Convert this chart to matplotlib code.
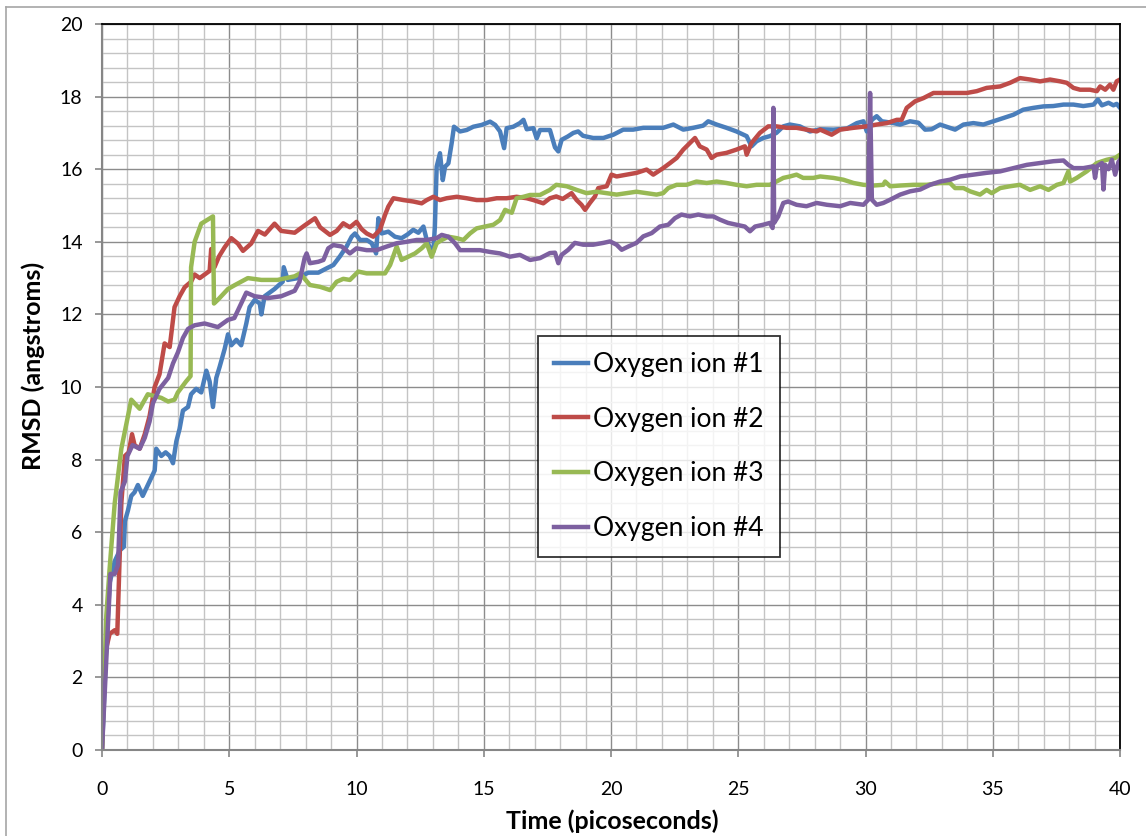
import matplotlib
matplotlib.use("Agg")
import matplotlib.pyplot as plt
from matplotlib.lines import Line2D
from matplotlib.ticker import MultipleLocator

plt.rcParams['font.family'] = ['Lato', 'DejaVu Sans']

# (time in ps, RMSD in angstroms)
ion1 = [(0, 0), (0.15, 2.6), (0.3, 4.6), (0.5, 5.2), (0.7, 5.5), (0.86, 5.6), (0.9, 6.3), (1.02, 6.6),
        (1.15, 7.0), (1.28, 7.1), (1.41, 7.3), (1.6, 7.0), (1.87, 7.4), (2.07, 7.7), (2.13, 8.3), (2.33, 8.1),
        (2.5, 8.2), (2.66, 8.1), (2.79, 7.9), (2.92, 8.5), (3.05, 8.85), (3.18, 9.35), (3.38, 9.45), (3.5, 9.8),
        (3.7, 9.95), (3.9, 9.85), (4.1, 10.45), (4.23, 10.15), (4.36, 9.45), (4.49, 10.25), (4.62, 10.55),
        (4.82, 11.05), (4.95, 11.45), (5.08, 11.15), (5.28, 11.3), (5.47, 11.15), (5.67, 11.75), (5.8, 12.2),
        (6.0, 12.4), (6.2, 12.3), (6.26, 12.0), (6.39, 12.5), (6.78, 12.7), (7.1, 12.9), (7.14, 13.3),
        (7.3, 12.95), (7.7, 13.0), (8.1, 13.15), (8.5, 13.15), (8.83, 13.27), (9.09, 13.36), (9.35, 13.6),
        (9.61, 13.87), (9.81, 14.14), (9.94, 14.23), (10.14, 14.05), (10.4, 14.05), (10.6, 13.96),
        (10.77, 13.68), (10.86, 14.65), (10.99, 14.23), (11.25, 14.28), (11.51, 14.14), (11.77, 14.1),
        (12.0, 14.2), (12.23, 14.33), (12.43, 14.25), (12.63, 14.42), (12.76, 14.05), (12.89, 13.82),
        (13.02, 13.73), (13.08, 14.42), (13.15, 16.07), (13.28, 16.44), (13.39, 15.7), (13.48, 16.07),
        (13.61, 16.16), (13.74, 16.72), (13.83, 17.17), (14.07, 17.04), (14.33, 17.08), (14.59, 17.17),
        (14.92, 17.22), (15.25, 17.31), (15.45, 17.22), (15.64, 17.04), (15.8, 16.58), (15.9, 17.13),
        (16.16, 17.17), (16.42, 17.27), (16.56, 17.36), (16.69, 17.1), (16.95, 17.13), (17.08, 16.85),
        (17.21, 17.08), (17.6, 17.08), (17.8, 16.6), (17.93, 16.49), (18.06, 16.81), (18.3, 16.9),
        (18.52, 17.0), (18.71, 17.04), (18.9, 16.92), (19.3, 16.86), (19.7, 16.86), (20.09, 16.95),
        (20.48, 17.09), (20.87, 17.09), (21.27, 17.14), (21.66, 17.14), (22.05, 17.14), (22.45, 17.23),
        (22.84, 17.09), (23.23, 17.14), (23.62, 17.2), (23.82, 17.32), (24.15, 17.23), (24.54, 17.14),
        (24.93, 17.04), (25.33, 16.91), (25.52, 16.63), (25.72, 16.77), (25.98, 16.86), (26.24, 16.91),
        (26.5, 17.0), (26.77, 17.18), (27.03, 17.23), (27.42, 17.18), (27.82, 17.04), (28.22, 17.1),
        (28.74, 17.09), (29.27, 17.12), (29.66, 17.27), (29.92, 17.32), (30.05, 17.04), (30.25, 17.36),
        (30.44, 17.46), (30.64, 17.32), (30.84, 17.3), (31.1, 17.27), (31.36, 17.23), (31.75, 17.32),
        (32.08, 17.28), (32.34, 17.09), (32.6, 17.1), (32.93, 17.23), (33.26, 17.15), (33.52, 17.09),
        (33.85, 17.23), (34.24, 17.27), (34.63, 17.23), (35.03, 17.32), (35.42, 17.41), (35.81, 17.5),
        (36.2, 17.64), (36.6, 17.69), (36.99, 17.73), (37.38, 17.74), (37.78, 17.78), (38.17, 17.78),
        (38.56, 17.74), (38.96, 17.78), (39.13, 17.92), (39.29, 17.76), (39.55, 17.83), (39.74, 17.76),
        (39.87, 17.8), (40.0, 17.69)]

ion2 = [(0, 0), (0.1, 2.6), (0.3, 3.2), (0.5, 3.3), (0.6, 3.2), (0.65, 4.3), (0.76, 6.8), (0.9, 8.1),
        (1.05, 8.2), (1.18, 8.7), (1.28, 8.4), (1.48, 8.3), (1.68, 8.7), (1.87, 9.2), (2.07, 10.0),
        (2.26, 10.35), (2.46, 11.2), (2.66, 11.1), (2.85, 12.2), (3.05, 12.5), (3.25, 12.75), (3.5, 12.9),
        (3.64, 13.1), (3.84, 13.0), (4.23, 13.2), (4.29, 13.8), (4.42, 13.3), (4.6, 13.6), (4.82, 13.85),
        (5.08, 14.1), (5.34, 13.95), (5.54, 13.75), (5.86, 13.95), (6.13, 14.3), (6.4, 14.2), (6.78, 14.5),
        (7.04, 14.3), (7.57, 14.25), (7.96, 14.45), (8.37, 14.65), (8.57, 14.4), (8.96, 14.19), (9.22, 14.3),
        (9.48, 14.51), (9.74, 14.4), (10.0, 14.55), (10.2, 14.35), (10.4, 14.23), (10.66, 14.14),
        (10.92, 14.33), (11.12, 14.74), (11.25, 14.97), (11.45, 15.2), (11.84, 15.15), (12.23, 15.11),
        (12.56, 15.06), (12.76, 15.15), (13.02, 15.24), (13.28, 15.15), (13.54, 15.2), (13.94, 15.24),
        (14.33, 15.2), (14.72, 15.15), (15.12, 15.15), (15.51, 15.2), (15.9, 15.2), (16.29, 15.24),
        (16.69, 15.2), (16.95, 15.15), (17.34, 15.06), (17.6, 15.2), (17.85, 15.25), (18.1, 15.18),
        (18.45, 15.34), (18.65, 15.15), (18.84, 15.02), (18.98, 14.88), (19.17, 15.07), (19.37, 15.25),
        (19.5, 15.48), (19.83, 15.53), (20.02, 15.85), (20.22, 15.8), (20.61, 15.85), (21.01, 15.9),
        (21.4, 15.99), (21.66, 15.85), (22.05, 16.03), (22.32, 16.17), (22.58, 16.31), (22.84, 16.54),
        (23.1, 16.72), (23.3, 16.86), (23.49, 16.63), (23.76, 16.54), (23.95, 16.31), (24.15, 16.4),
        (24.54, 16.45), (24.93, 16.54), (25.26, 16.63), (25.33, 16.4), (25.52, 16.72), (25.85, 17.0),
        (26.18, 17.18), (26.5, 17.18), (26.9, 17.14), (27.29, 17.14), (27.68, 17.09), (28.08, 17.04),
        (28.22, 17.09), (28.67, 16.95), (29.0, 17.09), (29.53, 17.14), (30.05, 17.18), (30.44, 17.23),
        (30.84, 17.27), (31.23, 17.36), (31.42, 17.36), (31.62, 17.69), (31.95, 17.87), (32.28, 17.96),
        (32.67, 18.1), (33.06, 18.1), (33.45, 18.1), (33.98, 18.1), (34.37, 18.15), (34.76, 18.24),
        (35.29, 18.28), (35.68, 18.38), (36.07, 18.51), (36.47, 18.47), (36.86, 18.42), (37.25, 18.47),
        (37.65, 18.42), (37.91, 18.38), (38.17, 18.24), (38.43, 18.19), (38.82, 18.19), (39.09, 18.15),
        (39.22, 18.28), (39.42, 18.19), (39.61, 18.33), (39.74, 18.19), (39.87, 18.42), (40.0, 18.47)]

ion3 = [(0, 0), (0.17, 3.7), (0.3, 5.0), (0.5, 6.8), (0.76, 8.3), (0.96, 9.0), (1.15, 9.65), (1.35, 9.5),
        (1.48, 9.4), (1.8, 9.8), (2.33, 9.7), (2.6, 9.6), (2.85, 9.65), (2.98, 9.85), (3.3, 10.15),
        (3.48, 10.3), (3.5, 13.3), (3.64, 14.0), (3.9, 14.5), (4.36, 14.7), (4.4, 12.3), (4.55, 12.4),
        (4.95, 12.7), (5.2, 12.8), (5.73, 13.0), (6.26, 12.95), (6.9, 12.95), (7.57, 13.05), (7.78, 13.13),
        (8.17, 12.81), (8.57, 12.76), (8.96, 12.67), (9.22, 12.9), (9.48, 12.98), (9.74, 12.95),
        (10.07, 13.18), (10.4, 13.13), (10.79, 13.13), (11.12, 13.13), (11.32, 13.36), (11.58, 13.87),
        (11.77, 13.5), (12.04, 13.59), (12.3, 13.68), (12.56, 13.82), (12.76, 13.96), (12.95, 13.59),
        (13.15, 13.96), (13.35, 14.05), (13.61, 14.14), (13.94, 14.1), (14.2, 14.05), (14.46, 14.23),
        (14.72, 14.37), (15.05, 14.42), (15.38, 14.47), (15.64, 14.6), (15.84, 14.88), (16.1, 14.8),
        (16.29, 15.2), (16.56, 15.24), (16.82, 15.29), (17.21, 15.29), (17.6, 15.43), (17.85, 15.57),
        (18.26, 15.53), (18.65, 15.43), (19.04, 15.34), (19.43, 15.38), (19.83, 15.34), (20.22, 15.3),
        (20.61, 15.34), (21.0, 15.38), (21.4, 15.34), (21.79, 15.3), (22.05, 15.34), (22.25, 15.48),
        (22.58, 15.57), (22.97, 15.57), (23.36, 15.66), (23.76, 15.62), (24.15, 15.66), (24.54, 15.62),
        (24.93, 15.57), (25.33, 15.53), (25.72, 15.57), (26.24, 15.57), (26.5, 15.66), (26.77, 15.76),
        (27.03, 15.8), (27.29, 15.85), (27.55, 15.76), (27.95, 15.76), (28.22, 15.8), (28.74, 15.76),
        (29.13, 15.71), (29.53, 15.62), (29.92, 15.57), (30.31, 15.55), (30.7, 15.57), (30.77, 15.66),
        (30.97, 15.53), (31.36, 15.55), (31.88, 15.57), (32.41, 15.57), (32.93, 15.62), (33.32, 15.62),
        (33.52, 15.48), (33.85, 15.48), (34.11, 15.39), (34.5, 15.3), (34.76, 15.43), (34.96, 15.34),
        (35.29, 15.48), (35.68, 15.53), (36.07, 15.57), (36.47, 15.43), (36.86, 15.53), (37.19, 15.43),
        (37.52, 15.57), (37.78, 15.62), (37.97, 15.94), (38.04, 15.66), (38.3, 15.76), (38.69, 15.94),
        (39.09, 16.17), (39.48, 16.26), (39.81, 16.31), (40.0, 16.4)]

ion4 = [(0, 0), (0.17, 2.5), (0.33, 4.85), (0.5, 4.85), (0.63, 5.1), (0.73, 7.1), (0.9, 7.4), (1.0, 8.1),
        (1.2, 8.4), (1.48, 8.3), (1.68, 8.6), (1.87, 9.05), (2.0, 9.55), (2.26, 9.95), (2.6, 10.25),
        (2.79, 10.65), (2.98, 10.95), (3.18, 11.35), (3.38, 11.6), (3.64, 11.7), (4.03, 11.75), (4.3, 11.7),
        (4.55, 11.65), (4.95, 11.85), (5.2, 11.9), (5.47, 12.3), (5.67, 12.6), (6.0, 12.5), (6.52, 12.45),
        (7.04, 12.5), (7.57, 12.65), (7.76, 12.9), (7.96, 13.55), (8.04, 13.68), (8.17, 13.41), (8.5, 13.45),
        (8.7, 13.5), (8.89, 13.82), (9.09, 13.91), (9.42, 13.87), (9.74, 13.68), (10.0, 13.82), (10.4, 13.77),
        (10.79, 13.77), (11.19, 13.87), (11.58, 13.96), (11.97, 14.0), (12.36, 14.05), (12.76, 14.05),
        (13.15, 14.1), (13.35, 14.19), (13.61, 14.14), (13.87, 13.96), (14.07, 13.77), (14.46, 13.77),
        (14.85, 13.77), (15.25, 13.72), (15.64, 13.68), (16.03, 13.59), (16.42, 13.64), (16.82, 13.5),
        (17.21, 13.55), (17.6, 13.69), (17.8, 13.7), (17.93, 13.41), (18.06, 13.64), (18.32, 13.78),
        (18.58, 13.97), (18.91, 13.92), (19.3, 13.92), (19.7, 13.97), (19.96, 14.01), (20.22, 13.92),
        (20.42, 13.78), (20.68, 13.87), (21.0, 13.97), (21.27, 14.15), (21.6, 14.24), (21.92, 14.42),
        (22.25, 14.47), (22.51, 14.65), (22.77, 14.75), (23.1, 14.7), (23.43, 14.75), (23.76, 14.7),
        (24.02, 14.7), (24.28, 14.61), (24.6, 14.52), (24.93, 14.47), (25.26, 14.42), (25.46, 14.29),
        (25.66, 14.42), (25.98, 14.47), (26.24, 14.52), (26.35, 14.38), (26.38, 17.69), (26.41, 14.52),
        (26.57, 14.7), (26.77, 15.07), (26.96, 15.11), (27.29, 15.02), (27.68, 14.98), (28.08, 15.07),
        (28.48, 15.02), (29.0, 14.98), (29.4, 15.07), (29.92, 15.02), (30.11, 15.16), (30.18, 18.1),
        (30.25, 15.16), (30.44, 15.02), (30.7, 15.07), (30.97, 15.16), (31.36, 15.3), (31.75, 15.39),
        (32.15, 15.44), (32.54, 15.57), (32.93, 15.66), (33.32, 15.71), (33.72, 15.8), (34.24, 15.85),
        (34.76, 15.9), (35.29, 15.94), (35.81, 16.03), (36.34, 16.12), (36.86, 16.17), (37.38, 16.22),
        (37.78, 16.24), (37.97, 16.12), (38.17, 16.03), (38.56, 16.03), (38.96, 16.08), (39.02, 15.76),
        (39.09, 16.08), (39.29, 16.17), (39.35, 15.44), (39.42, 16.12), (39.55, 16.0), (39.68, 16.26),
        (39.81, 15.85), (39.94, 16.2), (40.0, 16.26)]

labels = ['Oxygen ion #1', 'Oxygen ion #2', 'Oxygen ion #3', 'Oxygen ion #4']
colors = ['#4a7ebb', '#be4b48', '#98b954', '#7d60a0']

W, H = 1146, 836
fig = plt.figure(figsize=(W / 100, H / 100), dpi=100)
ax = fig.add_axes([102 / W, 1 - 750 / H, 1018 / W, 726 / H])

for data, lab, col in zip([ion1, ion2, ion3, ion4], labels, colors):
    t = [p[0] for p in data]
    v = [p[1] for p in data]
    ax.plot(t, v, color=col, lw=3.2, label=lab, solid_joinstyle='round')

ax.set_xlim(0, 40)
ax.set_ylim(0, 20)
ax.xaxis.set_major_locator(MultipleLocator(5))
ax.xaxis.set_minor_locator(MultipleLocator(1))
ax.yaxis.set_major_locator(MultipleLocator(2))
ax.yaxis.set_minor_locator(MultipleLocator(0.4))
ax.grid(which='major', color='#8c8c8c', lw=1.0)
ax.grid(which='minor', color='#c4c4c4', lw=1.0)
ax.set_axisbelow(True)

for s in ['top', 'right']:
    ax.spines[s].set_color('black')
    ax.spines[s].set_linewidth(1.3)
for s in ['left', 'bottom']:
    ax.spines[s].set_color('#868686')
    ax.spines[s].set_linewidth(1.5)

ax.tick_params(which='major', direction='out', length=5, width=1.2, color='#868686', labelsize=14)
ax.tick_params(which='minor', length=0)
ax.tick_params(axis='x', pad=17)
ax.tick_params(axis='y', pad=9)

fig.text(612 / W, 1 - 821 / H, 'Time (picoseconds)', ha='center', va='center',
         fontsize=18, fontweight='bold')
fig.text(33 / W, 1 - 366 / H, 'RMSD (angstroms)', ha='center', va='center',
         rotation=90, fontsize=18, fontweight='bold')

leg = fig.legend(loc='upper left', bbox_to_anchor=(538 / W, 1 - 336 / H), borderaxespad=0,
                 fontsize=19, frameon=True, fancybox=False, handlelength=1.3, handletextpad=0.2,
                 labelspacing=1.13, borderpad=0.6)
leg.get_frame().set_edgecolor('black')
leg.get_frame().set_linewidth(1.3)

# outer chart border (top and left edges visible)
fig.add_artist(Line2D([6 / W, 1], [1 - 7 / H, 1 - 7 / H], color='#a6a6a6', lw=1.2))
fig.add_artist(Line2D([6 / W, 6 / W], [0, 1 - 7 / H], color='#a6a6a6', lw=1.2))

fig.savefig('out.png', dpi=100)
